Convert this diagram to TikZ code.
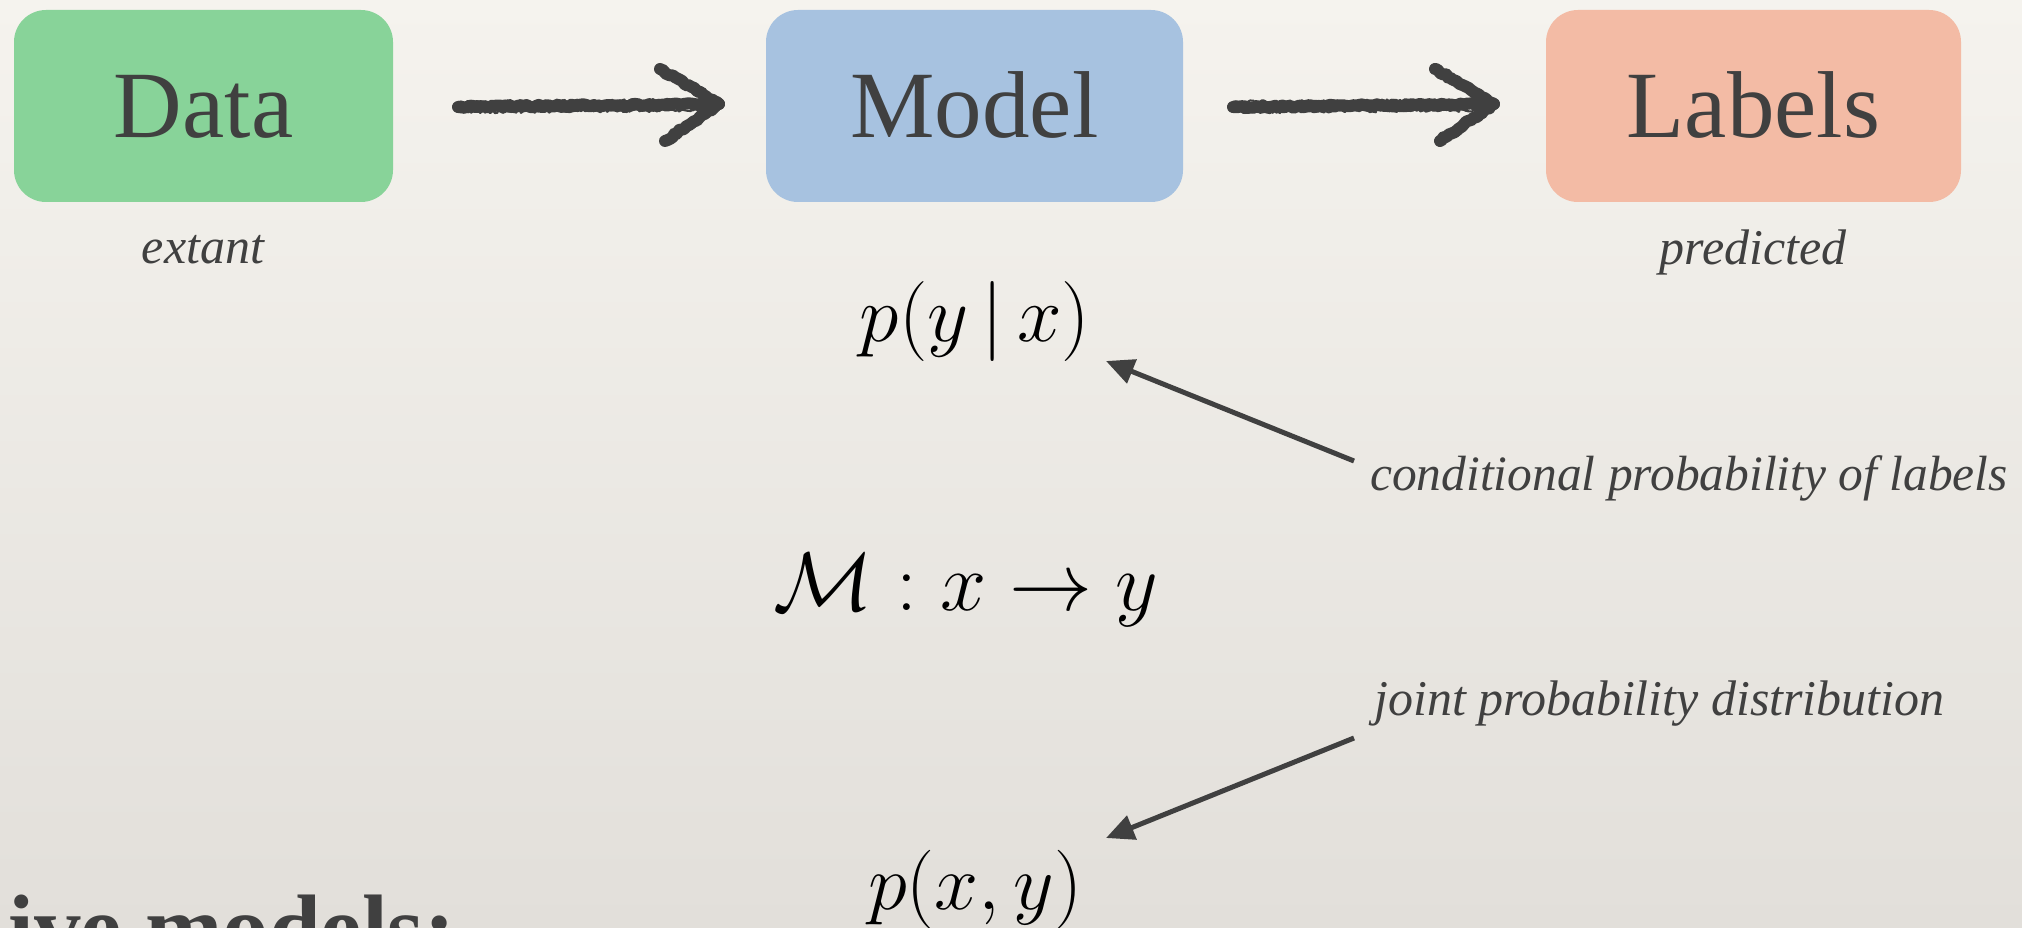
\RequirePackage{fix-cm}
\documentclass[tikz,border=0pt]{standalone}
\usepackage{fontspec}
\setmainfont{Liberation Serif}
\usetikzlibrary{arrows.meta,decorations.pathmorphing}
\definecolor{paperTop}{HTML}{F5F3EE}
\definecolor{paperBot}{HTML}{E2DFDA}
\definecolor{ink}{HTML}{404040}
\definecolor{boxGreen}{HTML}{88D399}
\definecolor{boxBlue}{HTML}{A7C2E0}
\definecolor{boxSalmon}{HTML}{F3BBA5}
\tikzset{
  stagebox/.style={rounded corners=32pt, inner sep=0pt, minimum height=192pt,
    text height=63pt, text depth=0pt, text=ink, font=\fontsize{95}{100}\selectfont},
  note/.style={inner sep=0pt, text=ink, font=\fontsize{50}{55}\selectfont\itshape},
  mathnode/.style={inner sep=0pt, text=black},
  sketch/.style={draw=ink, line width=12pt, line cap=round, line join=round,
    decorate, decoration={random steps, segment length=3pt, amplitude=1.2pt}},
  sketchthin/.style={draw=ink, line width=2pt, line cap=round, line join=round,
    decorate, decoration={random steps, segment length=2pt, amplitude=1.5pt}},
  ptr/.style={draw=ink, line width=5pt, -{Triangle[length=28pt,width=25pt]}}
}
\begin{document}
\begin{tikzpicture}[x=1pt,y=-1pt]
\pgfmathsetseed{7}
\useasboundingbox (0,0) rectangle (2022,928);
\shade[top color=paperTop, bottom color=paperBot] (0,0) rectangle (2022,928);
\clip (0,0) rectangle (2022,928);

% boxes
\node[stagebox, fill=boxGreen, minimum width=379pt] (data) at (203.5,106) {Data};
\node[stagebox, fill=boxBlue, minimum width=417pt] (model) at (974.5,106) {Model};
\node[stagebox, fill=boxSalmon, minimum width=415pt] (labels) at (1753.5,106) {Labels};

% captions
\node[note, anchor=base] (extant) at (203,263) {extant};
\node[note, anchor=base] (predicted) at (1753,265) {predicted};

% sketchy arrows
\coordinate (a1s) at (458,107);
\coordinate (a1t) at (719,104);
\coordinate (a1u) at (660,69);
\coordinate (a1d) at (665,141);
\path[sketch] (a1s) -- (a1t);
\path[sketch] (a1u) -- (a1t) -- (a1d);
\path[sketchthin] ([yshift=-5pt]a1s) -- ([yshift=-6pt]a1t);
\path[sketchthin] ([yshift=5pt]a1s) -- ([yshift=4pt]a1t);

\coordinate (a2s) at (1233,107);
\coordinate (a2t) at (1494,104);
\coordinate (a2u) at (1435,69);
\coordinate (a2d) at (1440,141);
\path[sketch] (a2s) -- (a2t);
\path[sketch] (a2u) -- (a2t) -- (a2d);
\path[sketchthin] ([yshift=-5pt]a2s) -- ([yshift=-6pt]a2t);
\path[sketchthin] ([yshift=5pt]a2s) -- ([yshift=4pt]a2t);

% math
\node[mathnode, anchor=base] (pyx) at (975,341) {\fontsize{80}{81}\selectfont$p(y\,|\,x)$};
\node[mathnode, anchor=base] (map) at (966,610) {\fontsize{83}{84}\selectfont$\mathcal{M}: x \to y$};
\node[mathnode, anchor=base] (pxy) at (975,909) {\fontsize{79}{80}\selectfont$p(x,y)$};

% annotations
\node[note, anchor=base west, font=\fontsize{49.5}{55}\selectfont\itshape] (cond) at (1370,490) {conditional probability of labels};
\node[note, anchor=base west, font=\fontsize{50}{55}\selectfont\itshape] (joint) at (1374,715) {joint probability distribution};

\coordinate (c1tail) at (1354,461);
\coordinate (c1tip) at (1106,361);
\coordinate (c2tail) at (1354,738);
\coordinate (c2tip) at (1106,838);
\draw[ptr] (c1tail) -- (c1tip);
\draw[ptr] (c2tail) -- (c2tip);

% clipped heading
\node[inner sep=0pt, anchor=base west, text=ink, font=\fontsize{93}{95}\selectfont\bfseries] (heading) at (8,959) {ive models:};
\end{tikzpicture}
\end{document}
